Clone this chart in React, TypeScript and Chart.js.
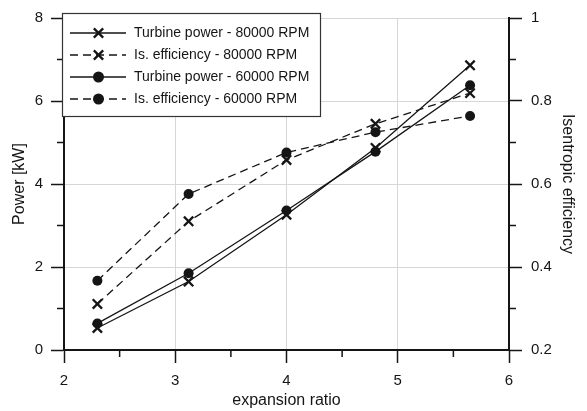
import React, { useEffect, useRef } from 'react';
import { Chart, registerables } from 'chart.js';

Chart.register(...registerables);

// ---- data ----
const expansionRatio = [2.3, 3.12, 4.0, 4.8, 5.65];
const power80k = [0.53, 1.65, 3.26, 4.87, 6.86];
const eff80k = [0.311, 0.51, 0.658, 0.745, 0.819];
const power60k = [0.64, 1.85, 3.36, 4.78, 6.38];
const eff60k = [0.367, 0.576, 0.676, 0.725, 0.764];

const seriesLabels = [
  'Turbine power - 80000 RPM',
  'Is. efficiency - 80000 RPM',
  'Turbine power - 60000 RPM',
  'Is. efficiency - 60000 RPM',
];

const xMinorTicks = [2.5, 3.5, 4.5, 5.5];
const powerMinorTicks = [1, 3, 5, 7];
const effMinorTicks = [0.3, 0.5, 0.7, 0.9];

const FONT = '"Liberation Sans", Arial, Helvetica, sans-serif';
const INK = '#151515';
const GRID = '#d6d6d6';

export default function App() {
  const ref = useRef<HTMLCanvasElement | null>(null);

  useEffect(() => {
    document.body.style.margin = '0';
    const canvas = ref.current;
    if (!canvas) return;

    const toXY = (ys: number[]) => expansionRatio.map((x, i) => ({ x, y: ys[i] }));

    const minorTicks = {
      id: 'minorTicks',
      afterDraw(chart: any) {
        const { ctx, chartArea, scales } = chart;
        const { left, right, bottom } = chartArea;
        ctx.save();
        ctx.strokeStyle = INK;
        ctx.lineWidth = 1.5;
        ctx.beginPath();
        xMinorTicks.forEach((v) => {
          const px = scales.x.getPixelForValue(v);
          ctx.moveTo(px, bottom);
          ctx.lineTo(px, bottom + 7);
        });
        powerMinorTicks.forEach((v) => {
          const py = scales.y.getPixelForValue(v);
          ctx.moveTo(left, py);
          ctx.lineTo(left - 7, py);
        });
        effMinorTicks.forEach((v) => {
          const py = scales.y1.getPixelForValue(v);
          ctx.moveTo(right, py);
          ctx.lineTo(right + 7, py);
        });
        ctx.stroke();
        ctx.restore();
      },
    };

    const boxLegend = {
      id: 'boxLegend',
      afterDraw(chart: any) {
        const { ctx, chartArea } = chart;
        const bx = chartArea.left - 2;
        const by = chartArea.top - 5;
        const bw = 258;
        const bh = 103;
        ctx.save();
        ctx.fillStyle = '#ffffff';
        ctx.fillRect(bx, by, bw, bh);
        ctx.strokeStyle = '#333333';
        ctx.lineWidth = 1.2;
        ctx.strokeRect(bx + 0.5, by + 0.5, bw, bh);
        const rowY0 = by + 20;
        const rowGap = 22;
        chart.data.datasets.forEach((ds: any, i: number) => {
          const cy = rowY0 + i * rowGap;
          const x0 = bx + 8;
          const x1 = bx + 64;
          const mx = bx + 36.5;
          ctx.strokeStyle = INK;
          ctx.lineWidth = ds.borderWidth;
          ctx.setLineDash(ds.borderDash || []);
          ctx.beginPath();
          ctx.moveTo(x0, cy);
          ctx.lineTo(x1, cy);
          ctx.stroke();
          ctx.setLineDash([]);
          if (ds.pointStyle === 'circle') {
            ctx.fillStyle = INK;
            ctx.beginPath();
            ctx.arc(mx, cy, ds.pointRadius + 0.5, 0, Math.PI * 2);
            ctx.fill();
          } else {
            const d = ds.pointRadius * Math.SQRT1_2;
            ctx.lineWidth = ds.pointBorderWidth;
            ctx.beginPath();
            ctx.moveTo(mx - d, cy - d);
            ctx.lineTo(mx + d, cy + d);
            ctx.moveTo(mx - d, cy + d);
            ctx.lineTo(mx + d, cy - d);
            ctx.stroke();
          }
          ctx.fillStyle = INK;
          ctx.font = `14px ${FONT}`;
          ctx.textAlign = 'left';
          ctx.textBaseline = 'middle';
          ctx.fillText(ds.label, bx + 72, cy + 0.5);
        });
        ctx.restore();
      },
    };

    const common = {
      borderColor: INK,
      backgroundColor: INK,
      pointBackgroundColor: INK,
      pointBorderColor: INK,
      borderWidth: 1.3,
      fill: false,
      tension: 0,
    };

    const chart = new Chart(canvas, {
      type: 'line',
      data: {
        datasets: [
          {
            ...common,
            label: seriesLabels[0],
            data: toXY(power80k),
            yAxisID: 'y',
            borderDash: [],
            pointStyle: 'crossRot',
            pointRadius: 6.6,
            pointBorderWidth: 2.3,
          },
          {
            ...common,
            label: seriesLabels[1],
            data: toXY(eff80k),
            yAxisID: 'y1',
            borderDash: [8, 5],
            pointStyle: 'crossRot',
            pointRadius: 6.6,
            pointBorderWidth: 2.3,
          },
          {
            ...common,
            label: seriesLabels[2],
            data: toXY(power60k),
            yAxisID: 'y',
            borderDash: [],
            pointStyle: 'circle',
            pointRadius: 5,
            pointBorderWidth: 0,
          },
          {
            ...common,
            label: seriesLabels[3],
            data: toXY(eff60k),
            yAxisID: 'y1',
            borderDash: [8, 5],
            pointStyle: 'circle',
            pointRadius: 5,
            pointBorderWidth: 0,
          },
        ] as any,
      },
      options: {
        responsive: false,
        animation: false,
        layout: { padding: { top: 15, left: 0, right: 0, bottom: 0 } },
        plugins: {
          legend: { display: false },
          tooltip: { enabled: false },
        },
        scales: {
          x: {
            type: 'linear',
            position: 'bottom',
            min: 2,
            max: 6,
            ticks: { stepSize: 1, color: INK, padding: 9, font: { family: FONT, size: 15 } },
            grid: { color: GRID, lineWidth: 1, tickColor: INK, tickLength: 13, tickWidth: 1.5 },
            border: { color: INK, width: 2 },
            title: {
              display: true,
              text: 'expansion ratio',
              color: INK,
              font: { family: FONT, size: 16 },
              padding: { top: 0, bottom: 1 },
            },
            afterFit: (s: any) => {
              s.height = 61;
            },
          },
          y: {
            type: 'linear',
            position: 'left',
            min: 0,
            max: 8,
            ticks: { stepSize: 2, color: INK, padding: 8, font: { family: FONT, size: 15 } },
            grid: { color: GRID, lineWidth: 1, tickColor: INK, tickLength: 13, tickWidth: 1.5 },
            border: { color: INK, width: 2 },
            title: {
              display: true,
              text: 'Power [kW]',
              color: INK,
              font: { family: FONT, size: 16 },
              padding: { top: 10, bottom: 0 },
            },
            afterFit: (s: any) => {
              s.width = 64;
            },
          },
          y1: {
            type: 'linear',
            position: 'right',
            min: 0.2,
            max: 1,
            ticks: {
              stepSize: 0.2,
              color: INK,
              padding: 9,
              font: { family: FONT, size: 15 },
              callback: (v: any) => String(Number(Number(v).toFixed(1))),
            },
            grid: { drawOnChartArea: false, tickColor: INK, tickLength: 13, tickWidth: 1.5 },
            border: { color: INK, width: 2 },
            title: {
              display: true,
              text: 'Isentropic efficiency',
              color: INK,
              font: { family: FONT, size: 16 },
              padding: { top: 10, bottom: 0 },
            },
            afterFit: (s: any) => {
              s.width = 78;
            },
          },
        },
      } as any,
      plugins: [minorTicks, boxLegend],
    });

    return () => chart.destroy();
  }, []);

  return <canvas ref={ref} width={587} height={411} style={{ display: 'block' }} />;
}
